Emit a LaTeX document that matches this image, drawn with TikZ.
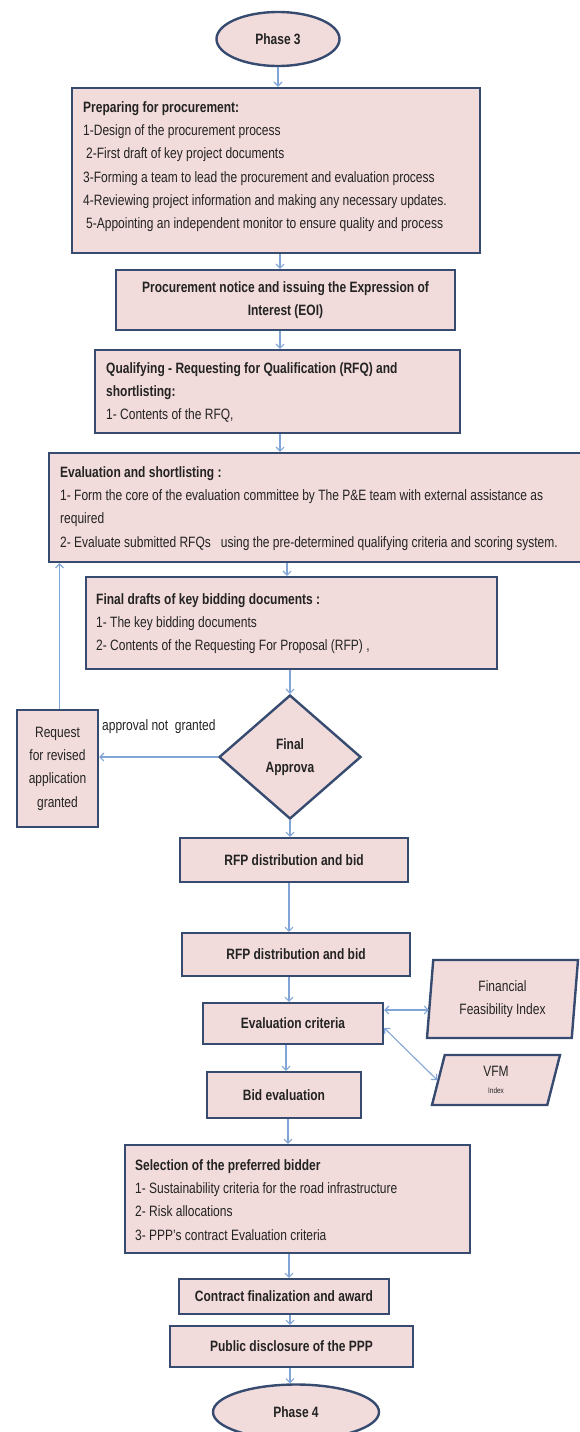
\documentclass[tikz,border=0pt]{standalone}
\usepackage{fontspec}
\setmainfont{Liberation Sans}[FakeStretch=0.80]
\usetikzlibrary{shapes.geometric,arrows.meta,calc}
\definecolor{boxfill}{RGB}{242,220,219}
\definecolor{boxline}{RGB}{55,75,112}
\definecolor{arrowblue}{RGB}{130,165,215}
\definecolor{txt}{RGB}{35,35,35}
\begin{document}
\begin{tikzpicture}[x=1pt,y=-1pt,
  nfont/.style={font=\fontsize{15}{23.3}\selectfont, text=txt},
  hfont/.style={font=\fontsize{15}{23.3}\selectfont\bfseries, text=txt},
  box/.style={draw=boxline, fill=boxfill, line width=2.4pt, rectangle, inner sep=0pt, align=center},
  oval/.style={draw=boxline, fill=boxfill, line width=2.4pt, ellipse, inner sep=0pt, hfont},
  bodytext/.style={nfont, inner sep=0pt, anchor=north west, align=left},
  arr/.style={draw=arrowblue, line width=1.1pt, -{Straight Barb[length=4pt,width=8pt]}},
  darr/.style={draw=arrowblue, line width=1.1pt, {Straight Barb[length=4pt,width=8pt]}-{Straight Barb[length=4pt,width=8pt]}},
]
\useasboundingbox (0,0) rectangle (579,1432);

% Phase 3
\node[oval, minimum width=123pt, minimum height=54pt] (p3) at (278,39) {Phase 3};

% Box 1
\node[box, minimum width=408pt, minimum height=165pt] (b1) at (276,170.5) {};
\node[bodytext] (b1t) at (83,101.2) {\textbf{Preparing for procurement:}\\
1-Design of the procurement process\\
\hspace*{3pt}2-First draft of key project documents\\
3-Forming a team to lead the procurement and evaluation process\\
4-Reviewing project information and making any necessary updates.\\
\hspace*{3pt}5-Appointing an independent monitor to ensure quality and process};

% Box 2
\node[box, hfont, minimum width=339pt, minimum height=60pt] (b2) at (285.5,300) {Procurement notice and issuing the Expression of\\Interest (EOI)};

% Box 3
\node[box, minimum width=365pt, minimum height=83pt] (b3) at (277.5,391.5) {};
\node[bodytext] (b3t) at (106,362.2) {\textbf{Qualifying - Requesting for Qualification (RFQ) and}\\
\textbf{shortlisting:}\\
1- Contents of the RFQ,};

% Box 4
\node[box, minimum width=536pt, minimum height=109pt] (b4) at (317,507.5) {};
\node[bodytext] (b4t) at (60,466.2) {\textbf{Evaluation and shortlisting :}\\
1- Form the core of the evaluation committee by The P\&E team with external assistance as\\
required\\
2- Evaluate submitted RFQs \ \ using the pre-determined qualifying criteria and scoring system.};

% Box 5
\node[box, minimum width=411pt, minimum height=92pt] (b5) at (291.5,623) {};
\node[bodytext] (b5t) at (96,593.2) {\textbf{Final drafts of key bidding documents :}\\
1- The key bidding documents\\
2- Contents of the Requesting For Proposal (RFP) ,};

% Decision
\node[diamond, draw=boxline, fill=boxfill, line width=2.4pt, inner sep=0pt, aspect=1.145,
      minimum width=142pt, minimum height=124pt, align=center, hfont] (dia) at (290,757) {Final\\Approva};

% Request box
\node[box, nfont, minimum width=81pt, minimum height=117pt] (req) at (57.5,768.5) {Request\\for revised\\application\\granted};
\node[nfont, anchor=west, inner sep=0pt] (lbl) at (102,727) {approval not\ \ granted};

% RFP boxes
\node[box, hfont, minimum width=228pt, minimum height=44pt] (r1) at (294,860) {RFP distribution and bid};
\node[box, hfont, minimum width=228pt, minimum height=43pt] (r2) at (296,954.5) {RFP distribution and bid};
\node[box, hfont, minimum width=180pt, minimum height=41pt] (ev) at (293,1023.5) {Evaluation criteria};

% Parallelograms
\node[trapezium, trapezium left angle=80.5, trapezium right angle=99.5, trapezium stretches body,
      draw=boxline, fill=boxfill, line width=2.4pt, inner sep=0pt, align=center, nfont,
      minimum width=151pt, minimum height=78pt] (fin) at (502.5,999) {Financial\\Feasibility Index};
\node[trapezium, trapezium left angle=65.3, trapezium right angle=114.7, trapezium stretches body,
      draw=boxline, fill=boxfill, line width=2.4pt, inner sep=0pt, align=center, nfont,
      minimum width=128pt, minimum height=50pt] (vfm) at (496,1080) {VFM\\[-6pt]{\fontsize{8}{9}\selectfont Index}};

% Bid evaluation
\node[box, hfont, minimum width=154pt, minimum height=46pt] (bid) at (284,1095) {Bid evaluation};

% Selection
\node[box, minimum width=345pt, minimum height=108pt] (sel) at (297.5,1199) {};
\node[bodytext] (selt) at (135,1159.2) {\textbf{Selection of the preferred bidder}\\
1- Sustainability criteria for the road infrastructure\\
2- Risk allocations\\
3- PPP's contract Evaluation criteria};

% Contract, public, phase 4
\node[box, hfont, minimum width=210pt, minimum height=35pt] (con) at (284,1296.5) {Contract finalization and award};
\node[box, hfont, minimum width=243pt, minimum height=41pt] (pub) at (291.5,1346.5) {Public disclosure of the PPP};
\node[oval, minimum width=166pt, minimum height=55pt] (p4) at (296,1412) {Phase 4};

% Connectors
\draw[arr] (p3.south) -- (p3.south |- b1.north);
\draw[arr] ([xshift=4pt]b1.south) -- ([xshift=4pt]b1.south |- b2.north);
\draw[arr] ([xshift=-5.5pt]b2.south) -- ([xshift=-5.5pt]b2.south |- b3.north);
\draw[arr] ([xshift=2.5pt]b3.south) -- ([xshift=2.5pt]b3.south |- b4.north);
\draw[arr] ([xshift=-4.5pt]b5.north |- b4.south) -- ([xshift=-4.5pt]b5.north);
\draw[arr] (dia.north |- b5.south) -- (dia.north);
\draw[arr] (dia.south) -- (dia.south |- r1.north);
\draw[arr] ([xshift=-5pt]r1.south) -- ([xshift=-5pt]r1.south |- r2.north);
\draw[arr] ([xshift=-7pt]r2.south) -- ([xshift=-7pt]r2.south |- ev.north);
\draw[arr] ([xshift=-7pt]ev.south) -- ([xshift=-7pt]ev.south |- bid.north);
\draw[arr] ([xshift=4pt]bid.south) -- ([xshift=4pt]bid.south |- sel.north);
\draw[arr] ([xshift=5pt]con.north |- sel.south) -- ([xshift=5pt]con.north);
\draw[arr] ([xshift=6pt]con.south) -- ([xshift=6pt]con.south |- pub.north);
\draw[arr] ([xshift=-1.5pt]pub.south) -- ([xshift=-1.5pt]pub.south |- p4.north);
\draw[arr] (dia.west) -- (dia.west -| req.east);
\draw[arr] ([xshift=2pt]req.north) -- ([xshift=2pt]req.north |- b4.south);
\draw[darr] ([yshift=13.5pt]ev.east) -- ([yshift=13.5pt]ev.east -| fin.west);
\draw[darr] ([yshift=-4.5pt]ev.east) -- (vfm.west);
\end{tikzpicture}
\end{document}
